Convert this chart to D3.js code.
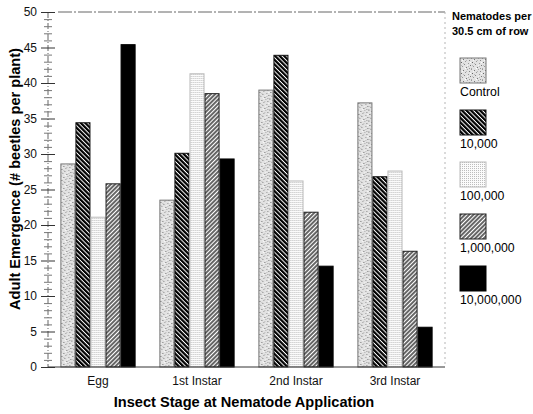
<!DOCTYPE html>
<html>
<head>
<meta charset="utf-8">
<script src="https://cdn.jsdelivr.net/npm/d3@7"></script>
<style>
  body { margin: 0; background: #fff; }
  svg { font-family: "Liberation Sans", Arial, sans-serif; }
</style>
</head>
<body>
<div class="chart"></div>
<script>
// categories and series
const stages = ['Egg', '1st Instar', '2nd Instar', '3rd Instar'];
const doses = ['Control', '10,000', '100,000', '1,000,000', '10,000,000'];
const control = [28.6, 23.5, 39.0, 37.2];
const n10k = [34.4, 30.1, 43.9, 26.8];
const n100k = [21.1, 41.3, 26.2, 27.6];
const n1m = [25.8, 38.5, 21.8, 16.3];
const n10m = [45.4, 29.3, 14.2, 5.6];
const yTicks = [0, 5, 10, 15, 20, 25, 30, 35, 40, 45, 50];

const series = [control, n10k, n100k, n1m, n10m];

const ancho = 533,
    alto = 414,
    margenIzq = 48,
    margenDer = 445,
    margenSup = 12,
    margenInf = 367;

let svg = d3.select('.chart').append('svg')
    .attr('width', ancho)
    .attr('height', alto);

// fill patterns for each dose
const defs = svg.append('defs');

// stipple for control (fixed speckle texture)
let stip = defs.append('pattern')
    .attr('id', 'p0')
    .attr('patternUnits', 'userSpaceOnUse')
    .attr('width', 11).attr('height', 11);
stip.append('rect').attr('width', 11).attr('height', 11).attr('fill', '#e2e2e2');
[[0, 0, '#999'], [3, 1, '#777'], [7, 0, '#aaa'], [9, 2, '#888'], [5, 3, '#999'],
 [1, 4, '#666'], [8, 5, '#999'], [4, 6, '#888'], [10, 7, '#777'], [2, 8, '#999'],
 [6, 9, '#777'], [0, 10, '#aaa'], [9, 10, '#999'], [3, 5, '#bbb'], [6, 2, '#bbb'],
 [1, 7, '#bbb'], [7, 7, '#f5f5f5'], [2, 2, '#f5f5f5'], [5, 10, '#fff'], [10, 4, '#fff'],
 [4, 9, '#f0f0f0'], [8, 8, '#bbb']].forEach(p => {
    stip.append('rect').attr('x', p[0]).attr('y', p[1])
        .attr('width', 1).attr('height', 1).attr('fill', p[2]);
});

// dense back-slash hatch
let h1 = defs.append('pattern')
    .attr('id', 'p1')
    .attr('patternUnits', 'userSpaceOnUse')
    .attr('width', 3.2).attr('height', 6)
    .attr('patternTransform', 'rotate(-45)');
h1.append('rect').attr('width', 3.2).attr('height', 6).attr('fill', '#fff');
h1.append('line').attr('x1', 1.1).attr('x2', 1.1).attr('y1', 0).attr('y2', 6)
    .attr('stroke', '#000').attr('stroke-width', 2.2);

// fine dots
let dots = defs.append('pattern')
    .attr('id', 'p2')
    .attr('patternUnits', 'userSpaceOnUse')
    .attr('width', 2).attr('height', 2);
dots.append('rect').attr('width', 2).attr('height', 2).attr('fill', '#fbfbfb');
dots.append('rect').attr('width', 1).attr('height', 1).attr('fill', '#bdbdbd');

// slash hatch
let h3 = defs.append('pattern')
    .attr('id', 'p3')
    .attr('patternUnits', 'userSpaceOnUse')
    .attr('width', 3).attr('height', 6)
    .attr('patternTransform', 'rotate(45)');
h3.append('rect').attr('width', 3).attr('height', 6).attr('fill', '#fff');
h3.append('line').attr('x1', 1).attr('x2', 1).attr('y1', 0).attr('y2', 6)
    .attr('stroke', '#000').attr('stroke-width', 1.2);

const fills = ['url(#p0)', 'url(#p1)', 'url(#p2)', 'url(#p3)', '#000'];
const strokes = ['#777', '#111', '#bbb', '#222', '#000'];

// scales
let x = d3.scaleBand()
    .domain(stages)
    .range([margenIzq, margenDer])
    .paddingInner(0.24)
    .paddingOuter(0.125);

let xIn = d3.scaleBand()
    .domain(doses)
    .range([0, x.bandwidth()]);

let y = d3.scaleLinear()
    .domain([0, 50])
    .range([margenInf, margenSup]);

// frame lines
svg.append('line')
    .attr('x1', margenIzq + 10).attr('x2', margenDer)
    .attr('y1', y(50)).attr('y2', y(50))
    .attr('stroke', '#666').attr('stroke-width', 1)
    .attr('stroke-dasharray', '14,2,2,2');

svg.append('line')
    .attr('x1', margenDer).attr('x2', margenDer)
    .attr('y1', y(50)).attr('y2', y(0))
    .attr('stroke', '#b5b5b5').attr('stroke-width', 1)
    .attr('stroke-dasharray', '2,3');

// bars
let groups = svg.append('g')
    .selectAll('g')
    .data(stages)
    .enter().append('g')
    .attr('transform', d => 'translate(' + x(d) + ',0)');

groups.selectAll('rect')
    .data((d, i) => series.map((s, j) => ({ dose: doses[j], value: s[i], k: j })))
    .enter().append('rect')
    .attr('x', d => xIn(d.dose) + 0.5)
    .attr('width', xIn.bandwidth() - 1)
    .attr('y', d => y(d.value))
    .attr('height', d => y(0) - y(d.value))
    .attr('fill', d => fills[d.k])
    .attr('stroke', d => strokes[d.k])
    .attr('stroke-width', 1);

// y axis
svg.append('line')
    .attr('x1', margenIzq).attr('x2', margenIzq)
    .attr('y1', y(50)).attr('y2', y(0))
    .attr('stroke', '#666').attr('stroke-width', 1)
    .attr('stroke-dasharray', '6,2,1,2');

let minor = d3.range(1, 50).filter(v => v % 5 !== 0);
svg.append('g')
    .attr('transform', 'translate(' + (margenIzq + 4) + ',0)')
    .call(d3.axisLeft(y).tickValues(minor).tickSize(8).tickFormat(''))
    .call(g => g.select('.domain').remove())
    .call(g => g.selectAll('line').attr('stroke', '#777'));

svg.append('g')
    .attr('transform', 'translate(' + (margenIzq + 7) + ',0)')
    .call(d3.axisLeft(y).tickValues(yTicks).tickSize(14).tickPadding(4))
    .call(g => g.select('.domain').remove())
    .call(g => g.selectAll('line').attr('stroke', '#333'))
    .call(g => g.selectAll('text').attr('font-size', 12).attr('fill', '#111')
        .attr('font-family', '"Liberation Sans", Arial, sans-serif'));

// x axis
svg.append('line')
    .attr('x1', margenIzq).attr('x2', margenDer)
    .attr('y1', y(0)).attr('y2', y(0))
    .attr('stroke', '#333').attr('stroke-width', 1);

svg.append('g')
    .attr('transform', 'translate(0,' + y(0) + ')')
    .call(d3.axisBottom(x).tickSize(0).tickPadding(9))
    .call(g => g.select('.domain').remove())
    .call(g => g.selectAll('text').attr('font-size', 12).attr('fill', '#111')
        .attr('font-family', '"Liberation Sans", Arial, sans-serif'));

// axis titles
svg.append('text')
    .attr('x', 244).attr('y', 407)
    .attr('text-anchor', 'middle')
    .attr('font-size', 14.6).attr('font-weight', 'bold')
    .text('Insect Stage at Nematode Application');

svg.append('text')
    .attr('transform', 'translate(20,179) rotate(-90)')
    .attr('text-anchor', 'middle')
    .attr('font-size', 14.6).attr('font-weight', 'bold')
    .text('Adult Emergence (# beetles per plant)');

// legend
let legend = svg.append('g');
legend.append('text')
    .attr('x', 452).attr('y', 20)
    .attr('font-size', 11).attr('font-weight', 'bold')
    .text('Nematodes per');
legend.append('text')
    .attr('x', 452).attr('y', 35)
    .attr('font-size', 11).attr('font-weight', 'bold')
    .text('30.5 cm of row');

let item = legend.selectAll('g.item')
    .data(doses)
    .enter().append('g')
    .attr('class', 'item')
    .attr('transform', (d, i) => 'translate(460,' + (58 + i * 52) + ')');

item.append('rect')
    .attr('width', 26).attr('height', 25)
    .attr('fill', (d, i) => fills[i])
    .attr('stroke', (d, i) => strokes[i]);

item.append('text')
    .attr('x', 0).attr('y', 38)
    .attr('font-size', 12.3)
    .text(d => d);
</script>
</body>
</html>
